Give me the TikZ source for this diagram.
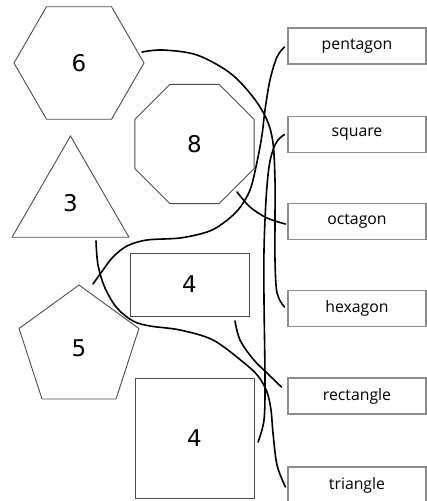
\documentclass[tikz,border=0pt]{standalone}
\usepackage{fontspec}
\usetikzlibrary{shapes.geometric}
\newfontfamily\labelfont{Open Sans}
\newfontfamily\numfont{DejaVu Sans}
\begin{document}
\begin{tikzpicture}[x=1pt,y=-1pt,
  shapeline/.style={draw=black!70, line width=0.9pt, inner sep=0pt, outer sep=0pt, font=\numfont\fontsize{23}{23}\selectfont},
  poly/.style={shapeline, regular polygon},
  namebox/.style={draw=black!45, line width=1.1pt, minimum width=138pt, minimum height=36pt, inner sep=0pt, font=\labelfont\fontsize{15.8}{16}\selectfont},
  link/.style={line width=1.6pt, line cap=round, line join=round}]
\useasboundingbox (0,0) rectangle (427,501);
% shapes
\node[poly, regular polygon sides=6, minimum size=130pt] (hex) at (79,63) {6};
\node[poly, regular polygon sides=8, minimum size=129pt] (oct) at (194.5,144) {8};
\node[poly, regular polygon sides=3, minimum size=135pt] (tri) at (70.5,203.5) {3};
\node[poly, regular polygon sides=5, minimum size=126pt] (pent) at (79,348) {5};
\node[shapeline, rectangle, minimum width=119pt, minimum height=63pt] (rect) at (189.5,284.5) {4};
\node[shapeline, rectangle, minimum width=119pt, minimum height=120pt] (sq) at (194.5,438) {4};
% name boxes
\node[namebox] (bpent) at (357,46) {pentagon};
\node[namebox] (bsq) at (357,134.5) {square};
\node[namebox] (boct) at (357,221.5) {octagon};
\node[namebox] (bhex) at (357,308.5) {hexagon};
\node[namebox] (brect) at (357,396) {rectangle};
\node[namebox] (btri) at (357,485) {triangle};
% free ends
\coordinate (hexS) at (142,52);
\coordinate (pentS) at (93,284);
\coordinate (sqS) at (258,442);
\coordinate (octS) at (237,192);
\coordinate (triS) at (96,241);
\coordinate (rectS) at (235,321);
\coordinate (hexE) at ([xshift=-3pt,yshift=1.5pt]bhex.west);
\coordinate (pentE) at ([xshift=-3pt,yshift=-1pt]bpent.west);
\coordinate (sqE) at ([xshift=-3pt]bsq.west);
\coordinate (octE) at ([xshift=-2pt,yshift=-2.5pt]boct.west);
\coordinate (triE) at ([xshift=-2pt,yshift=-2pt]btri.west);
\coordinate (rectE) at ([xshift=-6pt,yshift=9pt]brect.west);
% connectors
\draw[link] plot[smooth, tension=0.55] coordinates {(hexS) (163,50) (197,55) (230,73) (253,97) (267,120) (273,143) (275,180) (275,220) (275,260) (277,293) (hexE)};
\draw[link] plot[smooth, tension=0.55] coordinates {(pentS) (103,270) (113,257) (127,246) (147,240) (180,238) (207,232) (222,224) (238,210) (250,190) (257,162) (262,135) (265,110) (270,80) (277,57) (pentE)};
\draw[link] plot[smooth, tension=0.55] coordinates {(sqE) (278,140) (273,150) (269,167) (266,200) (264,250) (264,300) (265,380) (264,420) (sqS)};
\draw[link] plot[smooth, tension=0.55] coordinates {(octS) (250,207) (267,218) (octE)};
\draw[link] plot[smooth, tension=0.55] coordinates {(triS) (98,265) (105,288) (117,308) (133,321) (150,326) (180,330) (213,340) (243,362) (258,376) (267,392) (271,410) (273,433) (277,465) (triE)};
\draw[link] plot[smooth, tension=0.55] coordinates {(rectS) (240,340) (253,359) (267,373) (rectE)};
\end{tikzpicture}
\end{document}
